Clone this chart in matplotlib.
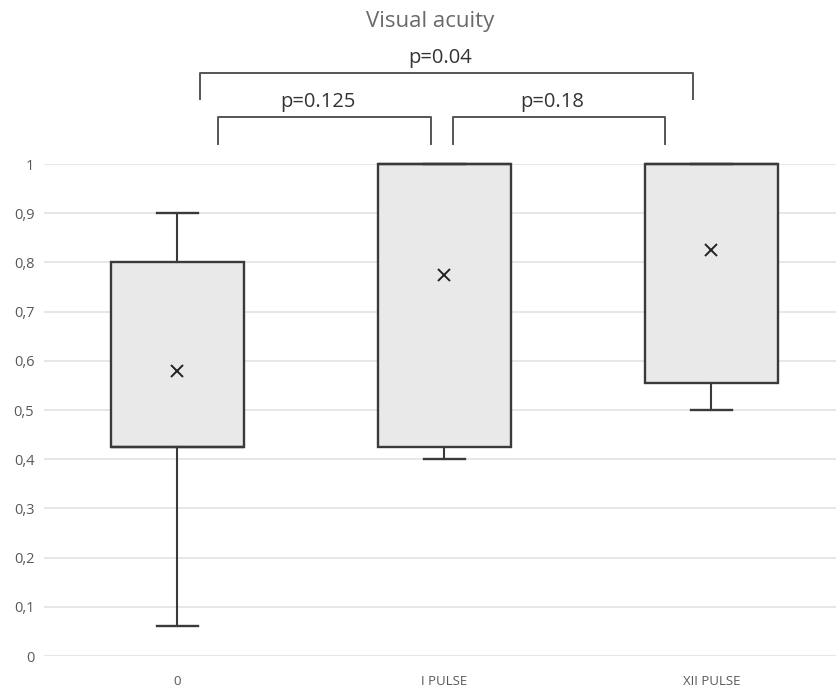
import matplotlib
matplotlib.use("Agg")
import matplotlib.pyplot as plt

# box statistics
groups = ["0", "I PULSE", "XII PULSE"]
whisker_low = [0.06, 0.40, 0.50]
q1 = [0.425, 0.425, 0.555]
median = [0.425, 1.0, 1.0]
q3 = [0.80, 1.0, 1.0]
whisker_high = [0.90, 1.0, 1.0]
means = [0.58, 0.775, 0.825]

yticks = [0, 0.1, 0.2, 0.3, 0.4, 0.5, 0.6, 0.7, 0.8, 0.9, 1]
ytick_labels = ["0", "0,1", "0,2", "0,3", "0,4", "0,5", "0,6", "0,7", "0,8", "0,9", "1"]

# comparisons: (left x, right x, bar y, leg y, label)
brackets = [
    (0.084, 1.931, 1.185, 1.132, "p=0.04"),
    (0.152, 0.949, 1.096, 1.041, "p=0.125"),
    (1.032, 1.826, 1.096, 1.041, "p=0.18"),
]

W, H = 837, 688
fig = plt.figure(figsize=(W / 100, H / 100), dpi=100)
ax = fig.add_axes([44 / W, 32 / H, 801 / W, 492 / H])

stats = []
for i, g in enumerate(groups):
    stats.append(dict(label=g, whislo=whisker_low[i], q1=q1[i], med=median[i],
                      q3=q3[i], whishi=whisker_high[i], mean=means[i], fliers=[]))

edge = "#3a3a3a"
art = ax.bxp(stats, positions=range(len(groups)), widths=0.5, capwidths=0.15,
             patch_artist=True, showmeans=True, showfliers=False,
             boxprops=dict(facecolor="#e9e9e9", edgecolor=edge, linewidth=1.7),
             whiskerprops=dict(color=edge, linewidth=1.5),
             capprops=dict(color=edge, linewidth=1.7),
             medianprops=dict(color=edge, linewidth=1.7),
             meanprops=dict(marker="x", markeredgecolor="#222222", markersize=9,
                            markeredgewidth=1.4))
for coll in art.values():
    for a in coll:
        a.set_clip_on(False)

ax.set_xlim(-0.5, 2.5)
ax.set_ylim(0, 1)
ax.set_yticks(yticks)
ax.set_yticklabels(ytick_labels)
ax.grid(axis="y", color="#e3e3e3", lw=1.2)
ax.set_axisbelow(True)
for s in ax.spines.values():
    s.set_visible(False)
ax.tick_params(length=0, colors="#595959", labelfontfamily="Open Sans")
ax.tick_params(axis="y", pad=7, labelsize=10.5)
ax.tick_params(axis="x", pad=14, labelsize=9.5)

for x0, x1, yb, yl, txt in brackets:
    ax.plot([x0, x0, x1, x1], [yl, yb, yb, yl], color="#555555", lw=1.4,
            clip_on=False)
    ax.text((x0 + x1) / 2 - 0.025, yb + 0.01, txt, ha="center", va="bottom",
            fontsize=14.5, family="Open Sans", color="#333333")

fig.text(430 / W, 1 - 22 / H, "Visual acuity", ha="center", va="center",
         fontsize=16, family="Open Sans", color="#6a6a6a")

fig.savefig("out.png", dpi=100)
